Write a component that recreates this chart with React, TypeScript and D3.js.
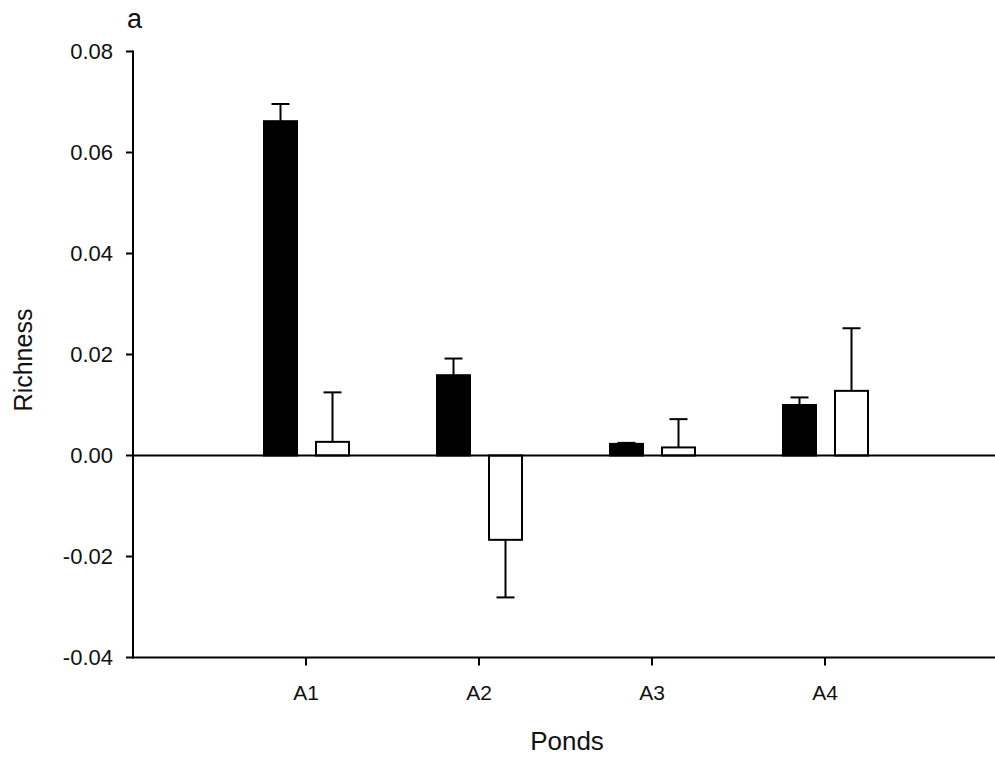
import React from "react";
import * as d3 from "d3";

const categories = ["A1", "A2", "A3", "A4"];
const blackValues = [0.0662, 0.0159, 0.0023, 0.01];
const blackErrors = [0.0034, 0.0033, 0.0002, 0.0015];
const whiteValues = [0.0027, -0.0167, 0.0016, 0.0128];
const whiteErrors = [0.0098, -0.0114, 0.0056, 0.0124];
const yTicks = [-0.04, -0.02, 0.0, 0.02, 0.04, 0.06, 0.08];

export default function App() {
  const W = 995, H = 759;
  const left = 133, right = 998, top = 51.5, bottom = 657.5;
  const x = d3.scaleLinear().domain([0, 5]).range([left, right]);
  const y = d3.scaleLinear().domain([-0.04, 0.08]).range([bottom, top]);
  const barW = 33;
  const font = "'Liberation Sans', Arial, sans-serif";
  const sw = 2;

  const bar = (v: number, e: number, cx: number, fill: string, key: string) => {
    const y0 = y(0), y1 = y(v), ye = y(v + e);
    return (
      <g key={key}>
        <line x1={cx + barW / 2} x2={cx + barW / 2} y1={y1} y2={ye} stroke="#000" strokeWidth={sw} />
        <line x1={cx + barW / 2 - 9} x2={cx + barW / 2 + 9} y1={ye} y2={ye} stroke="#000" strokeWidth={sw} />
        <rect x={cx} y={Math.min(y0, y1)} width={barW} height={Math.abs(y1 - y0)} fill={fill} stroke="#000" strokeWidth={sw} />
      </g>
    );
  };

  return (
    <svg width={W} height={H} style={{ position: "absolute", left: 0, top: 0, background: "#fff" }}>
      <rect width={W} height={H} fill="#fff" />
      {categories.map((c, i) => {
        const cx = x(i + 1);
        return (
          <g key={c}>
            {bar(blackValues[i], blackErrors[i], cx - 42, "#000", c + "b")}
            {bar(whiteValues[i], whiteErrors[i], cx + 10, "#fff", c + "w")}
          </g>
        );
      })}
      <line x1={left} x2={right} y1={y(0)} y2={y(0)} stroke="#000" strokeWidth={sw} />
      <line x1={left} x2={left} y1={top - 1} y2={bottom + 1} stroke="#000" strokeWidth={sw} />
      <line x1={left} x2={right} y1={bottom} y2={bottom} stroke="#000" strokeWidth={sw} />
      {yTicks.map((t) => (
        <g key={t}>
          <line x1={left - 7} x2={left} y1={y(t)} y2={y(t)} stroke="#000" strokeWidth={sw} />
          <text x={left - 20} y={y(t)} dy="0.36em" textAnchor="end" fontFamily={font} fontSize={22} fill="#111">
            {t.toFixed(2)}
          </text>
        </g>
      ))}
      {categories.map((c, i) => (
        <g key={"t" + c}>
          <line x1={x(i + 1)} x2={x(i + 1)} y1={bottom} y2={bottom + 8} stroke="#000" strokeWidth={sw} />
          <text x={x(i + 1)} y={700} textAnchor="middle" fontFamily={font} fontSize={21} fill="#111">
            {c}
          </text>
        </g>
      ))}
      <text x={567} y={750} textAnchor="middle" fontFamily={font} fontSize={26} fill="#111">Ponds</text>
      <text transform={`translate(32,360) rotate(-90)`} textAnchor="middle" fontFamily={font} fontSize={25} fill="#111">Richness</text>
      <text x={127} y={28} fontFamily={font} fontSize={27} fill="#111">a</text>
    </svg>
  );
}
